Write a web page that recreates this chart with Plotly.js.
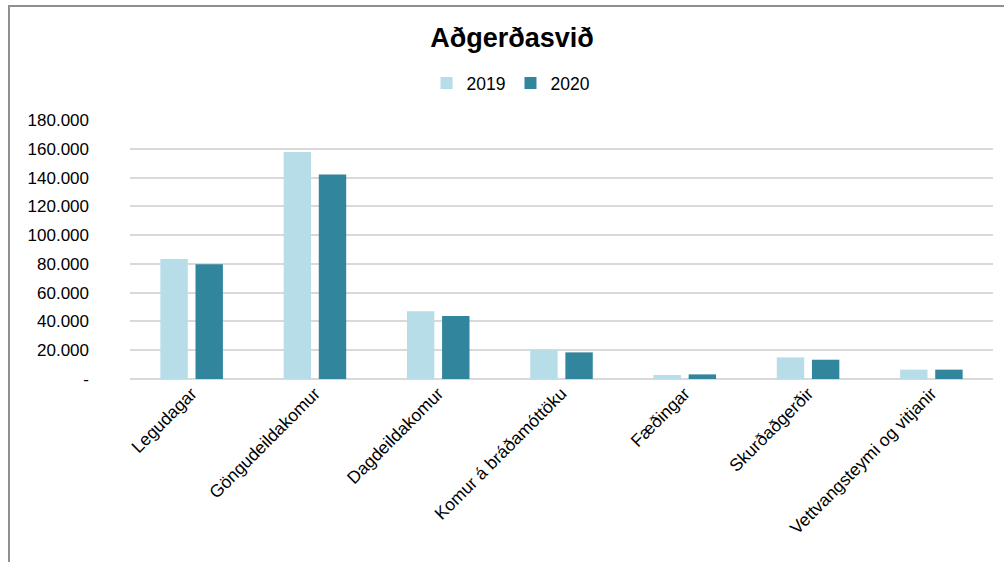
<!DOCTYPE html>
<html>
<head>
<meta charset="utf-8">
<script src="https://cdn.plot.ly/plotly-3.0.1.min.js"></script>
<style>
  html, body { margin: 0; padding: 0; background: #fff; overflow: hidden; }
  #chart { width: 1004px; height: 562px; position: absolute; left: 0; top: 0; }
  #frame { position: absolute; left: 8px; top: 5px; width: 1100px; height: 700px;
           border-left: 2px solid #8f8f8f; border-top: 2px solid #8f8f8f; pointer-events: none; }
</style>
</head>
<body>
<div id="chart"></div>
<div id="frame"></div>
<script>
const categories = ["Legudagar", "Göngudeildakomur", "Dagdeildakomur", "Komur á bráðamóttöku", "Fæðingar", "Skurðaðgerðir", "Vettvangsteymi og vitjanir"];
const values2019 = [83400, 157700, 47000, 20100, 2800, 15000, 6500];
const values2020 = [79700, 142200, 43800, 18500, 3200, 13400, 6500];
const seriesNames = ["2019", "2020"];
const yTickValues = [0, 20000, 40000, 60000, 80000, 100000, 120000, 140000, 160000, 180000];
const yTickLabels = ["-", "20.000", "40.000", "60.000", "80.000", "100.000", "120.000", "140.000", "160.000", "180.000"];
const chartTitle = "Aðgerðasvið";

const FONT = "Liberation Sans, Arial, sans-serif";

const traces = [
  { type: "bar", name: seriesNames[0], x: categories, y: values2019,
    marker: { color: "#b7dde8" }, hoverinfo: "x+y" },
  { type: "bar", name: seriesNames[1], x: categories, y: values2020,
    marker: { color: "#31859c" }, hoverinfo: "x+y" }
];

const layout = {
  width: 1004, height: 562,
  paper_bgcolor: "#ffffff", plot_bgcolor: "#ffffff",
  margin: { l: 130, r: 11, t: 120, b: 183, pad: 0 },
  font: { family: FONT, color: "#000000", size: 17 },
  title: { text: "<b>" + chartTitle + "</b>", font: { family: FONT, size: 27, color: "#000000" },
           xref: "container", yref: "container", x: 0.51, xanchor: "center", y: 1 - 38/562, yanchor: "middle" },
  showlegend: true,
  legend: { orientation: "h", xref: "container", yref: "container", x: 0.509, xanchor: "center",
            y: 1 - 83/562, yanchor: "middle", font: { family: FONT, size: 17.5, color: "#000000" },
            itemwidth: 30, traceorder: "normal" },
  barmode: "group",
  bargap: 0.43,
  bargroupgap: 0.22,
  xaxis: {
    type: "category",
    tickangle: -45,
    tickfont: { family: FONT, size: 17.5, color: "#000000" },
    showgrid: false, zeroline: false, showline: false, ticks: "",
    automargin: false
  },
  yaxis: {
    range: [0, 180000],
    tickvals: yTickValues, ticktext: yTickLabels,
    tickfont: { family: FONT, size: 17, color: "#000000" },
    showgrid: true, gridcolor: "#d9d9d9", gridwidth: 1.5,
    zeroline: true, zerolinecolor: "#d9d9d9", zerolinewidth: 1.5,
    showline: false, ticks: "",
    ticklabelstandoff: 40,
    automargin: false
  }
};

Plotly.newPlot("chart", traces, layout, { displayModeBar: false, staticPlot: false });
</script>
</body>
</html>
